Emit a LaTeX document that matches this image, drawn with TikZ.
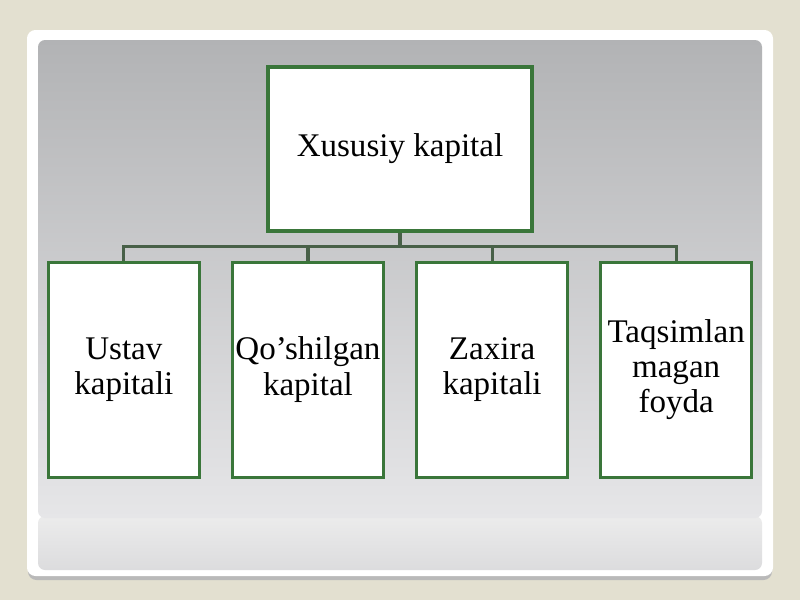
\documentclass[tikz,border=0pt]{standalone}
\usepackage{fontspec}
\setmainfont{Liberation Serif}
\usetikzlibrary{positioning}
\usetikzlibrary{calc}

\definecolor{bgbeige}{RGB}{227,224,208}
\definecolor{panelgray}{RGB}{236,236,236}
\definecolor{topgray}{RGB}{178,179,181}
\definecolor{botgray}{RGB}{230,230,232}
\definecolor{boxgreen}{RGB}{58,118,58}
\definecolor{linegreen}{RGB}{72,96,72}

\begin{document}
\begin{tikzpicture}[align=center,
  cnode/.style={rectangle,draw=boxgreen,fill=white,line width=2.2pt,font=\fontsize{23.5}{25}\selectfont},
  leaf/.style={cnode,minimum width=3.775cm,minimum height=5.375cm,inner sep=0pt},
  conn/.style={draw=linegreen,line width=2.2pt},
  node distance = .7cm and .75cm]
	% background and slide panel
	\fill[bgbeige] (0,0) rectangle (20,-15);
	\fill[gray!55,rounded corners=6pt] (0.7,-0.85) rectangle (19.3,-14.5);
	\fill[white,rounded corners=6pt] (0.675,-0.75) rectangle (19.325,-14.4);
	\shade[rounded corners=5pt,top color=panelgray,bottom color=botgray!90!gray] (0.95,-12.9) rectangle (19.05,-14.25);
	\shade[rounded corners=5pt,top color=topgray,bottom color=botgray] (0.95,-1.0) rectangle (19.05,-12.95);
	% chart
	\node[cnode,minimum width=6.6cm,minimum height=4.1cm] (xk) at (10,-3.725){Xususiy kapital};
	\node[leaf] (qoshilgan)[below left = .7cm and .375cm of xk.south]{Qo’shilgan\\kapital};
	\node[leaf] (ustav)[left = of qoshilgan]{Ustav\\kapitali};
	\node[leaf] (zaxira)[right = of qoshilgan]{Zaxira\\kapitali};
	\node[leaf] (foyda)[right = of zaxira]{Taqsimlan\\magan\\foyda};
	\draw[conn] (xk.south) -- ++(0,-.35) coordinate (hub);
	\foreach \b in {ustav,qoshilgan,zaxira,foyda}
		\draw[conn] (hub) -| (\b.north);
\end{tikzpicture}
\end{document}
